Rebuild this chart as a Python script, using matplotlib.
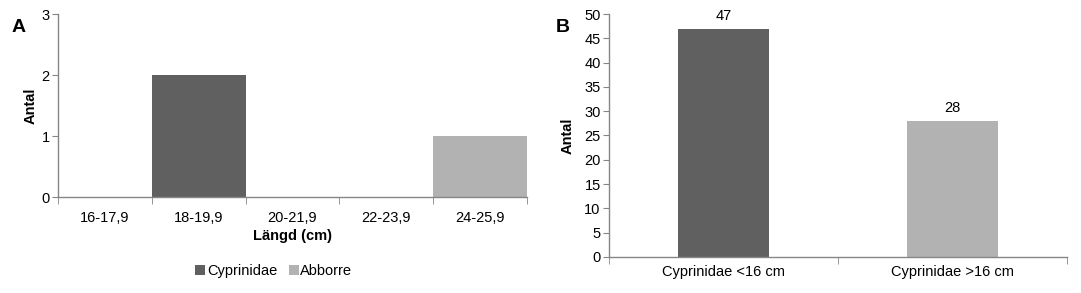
import numpy as np
import matplotlib.pyplot as plt

plt.rcParams['font.family'] = ['Liberation Sans', 'DejaVu Sans']

# panel A: length classes
length_classes = ['16-17,9', '18-19,9', '20-21,9', '22-23,9', '24-25,9']
cyprinidae_a = [0, 2, 0, 0, 0]
abborre_a = [0, 0, 0, 0, 1]

# panel B: size groups
groups_b = ['Cyprinidae <16 cm', 'Cyprinidae >16 cm']
counts_b = [47, 28]

dark = '#606060'
light = '#b2b2b2'
axcol = '#868686'
fs = 10.5

fig = plt.figure(figsize=(10.81, 2.93), dpi=100)

def style_axes(ax, n):
    for s in ['top', 'right']:
        ax.spines[s].set_visible(False)
    for s in ['left', 'bottom']:
        ax.spines[s].set_color(axcol)
        ax.spines[s].set_linewidth(1)
    ax.set_xlim(-0.5, n - 0.5)
    ax.set_xticks(np.arange(n))
    ax.set_xticks(np.arange(n + 1) - 0.5, minor=True)
    ax.tick_params(axis='x', which='major', length=0, labelsize=fs, pad=10)
    ax.tick_params(axis='x', which='minor', length=5, color=axcol, direction='out')
    ax.tick_params(axis='y', length=4, color=axcol, direction='out', labelsize=fs, pad=2)

# --- A ---
axA = fig.add_axes([0.0537, 0.3276, 0.4338, 0.6246])
x = np.arange(len(length_classes))
axA.bar(x, cyprinidae_a, width=1.0, color=dark, label='Cyprinidae')
axA.bar(x, abborre_a, width=1.0, color=light, label='Abborre')
style_axes(axA, len(length_classes))
axA.set_ylim(0, 3)
axA.set_yticks([0, 1, 2, 3])
axA.set_xticklabels(length_classes)
axA.set_ylabel('Antal', fontweight='bold', fontsize=fs, labelpad=3)
axA.set_xlabel('Längd (cm)', fontweight='bold', fontsize=fs, labelpad=3)
fig.text(0.011, 0.905, 'A', fontsize=14, fontweight='bold', va='center')
axA.legend(loc='center', bbox_to_anchor=(0.46, -0.405), ncol=2, frameon=False,
           fontsize=fs, handlelength=0.7, handleheight=0.7, handletextpad=0.1,
           columnspacing=0.8)

# --- B ---
axB = fig.add_axes([0.5634, 0.1229, 0.4236, 0.8293])
xb = np.arange(len(groups_b))
bars = axB.bar(xb, counts_b, width=0.4, color=[dark, light])
style_axes(axB, len(groups_b))
axB.set_ylim(0, 50)
axB.set_yticks(np.arange(0, 51, 5))
axB.set_xticklabels(groups_b)
axB.tick_params(axis='x', which='major', pad=6)
axB.set_ylabel('Antal', fontweight='bold', fontsize=fs, labelpad=7)
for b, v in zip(bars, counts_b):
    axB.text(b.get_x() + b.get_width() / 2, v + 1.2, str(v), ha='center',
             va='bottom', fontsize=fs)
fig.text(0.514, 0.905, 'B', fontsize=14, fontweight='bold', va='center')

fig.savefig('out.png', dpi=100)
